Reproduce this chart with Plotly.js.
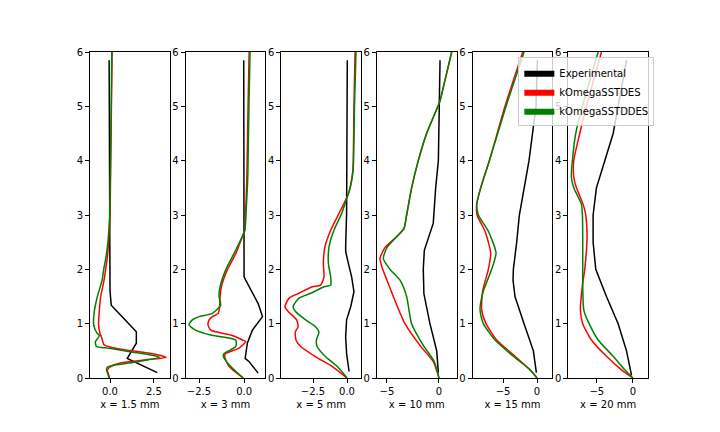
<!DOCTYPE html>
<html>
<head>
<meta charset="utf-8">
<script src="https://cdn.plot.ly/plotly-3.0.1.min.js"></script>
<style>
  html, body { margin: 0; padding: 0; background: #fff; }
  #chart { width: 720px; height: 432px; }
</style>
</head>
<body>
<div id="chart"></div>
<script>
const STATIONS = ["x = 1.5 mm", "x = 3 mm", "x = 5 mm", "x = 10 mm", "x = 15 mm", "x = 20 mm"];
const SERIES_NAMES = ["Experimental", "kOmegaSSTDES", "kOmegaSSTDDES"];
const SERIES_COLORS = ["#000000", "#ff0000", "#008000"];

// x = 1.5 mm
const exp15mm_y = [5.85, 4, 3, 2, 1.6, 1.34, 0.85, 0.64, 0.36, 0.10];
const exp15mm_x = [-0.05, -0.03, -0.02, -0.01, 0.0, 0.07, 1.50, 1.50, 0.98, 2.69];
const des15mm_y = [6, 5, 4, 3, 2.5, 2.2, 2.0, 1.8, 1.5, 1.19, 0.98, 0.82, 0.76, 0.61, 0.58, 0.53, 0.47, 0.42, 0.38, 0.34, 0.28, 0.21, 0.15, 0.06, 0];
const des15mm_x = [0.12, 0.08, 0.04, 0.0, -0.08, -0.16, -0.25, -0.34, -0.53, -0.62, -0.65, -0.57, -0.49, -0.34, -0.11, 0.64, 1.97, 2.82, 3.2, 2.16, 0.64, 0.04, -0.15, -0.08, -0.02];
const ddes15mm_y = [6, 5, 4, 3, 2.5, 2.2, 2.0, 1.8, 1.5, 1.19, 0.98, 0.83, 0.78, 0.67, 0.58, 0.55, 0.48, 0.42, 0.38, 0.30, 0.24, 0.20, 0.15, 0.06, 0];
const ddes15mm_x = [0.1, 0.07, 0.03, -0.02, -0.12, -0.24, -0.36, -0.45, -0.72, -0.91, -0.93, -0.75, -0.6, -0.83, -0.78, -0.11, 1.21, 2.35, 2.82, 1.59, 0.27, -0.15, -0.2, -0.11, -0.05];

// x = 3 mm
const exp3mm_y = [5.85, 4, 3, 1.86, 1.80, 1.56, 1.37, 1.13, 0.88, 0.64, 0.36, 0.30, 0.09];
const exp3mm_x = [-0.02, -0.02, -0.01, 0.0, 0.09, 0.46, 0.78, 1.02, 0.46, 0.18, 0.06, 0.28, 0.78];
const des3mm_y = [6, 5, 4, 3.64, 3.0, 2.72, 2.54, 2.29, 1.99, 1.68, 1.5, 1.34, 1.19, 1.13, 1.07, 0.98, 0.88, 0.79, 0.70, 0.67, 0.55, 0.45, 0.40, 0.21, 0];
const des3mm_x = [0.28, 0.22, 0.17, 0.15, 0.08, 0.04, -0.17, -0.46, -0.93, -1.26, -1.33, -1.35, -1.43, -1.76, -1.94, -2.0, -1.85, -0.74, -0.09, 0.09, -0.28, -1.02, -1.08, -0.83, -0.05];
const ddes3mm_y = [6, 5, 4, 3.64, 3.0, 2.72, 2.54, 2.29, 1.99, 1.68, 1.5, 1.34, 1.19, 1.13, 1.07, 0.98, 0.88, 0.79, 0.70, 0.58, 0.45, 0.40, 0.21, 0];
const ddes3mm_x = [0.33, 0.27, 0.22, 0.2, 0.1, 0.04, -0.19, -0.56, -1.02, -1.33, -1.39, -1.30, -1.76, -2.5, -2.87, -3.06, -2.69, -1.85, -0.46, -0.46, -1.11, -1.15, -0.74, -0.05];

// x = 5 mm
const exp5mm_y = [5.85, 4.5, 3.64, 3.03, 2.42, 2.33, 2.11, 1.86, 1.59, 1.31, 1.07, 0.76, 0.45, 0.12];
const exp5mm_x = [0.02, 0.02, 0.02, -0.03, -0.1, -0.1, 0.1, 0.34, 0.51, 0.27, -0.03, -0.1, -0.03, 0.15];
const des5mm_y = [6, 5, 4, 3.8, 3.5, 3.34, 3.03, 2.72, 2.42, 2.11, 1.86, 1.71, 1.68, 1.56, 1.47, 1.31, 1.22, 1.07, 0.94, 0.85, 0.70, 0.58, 0.39, 0.21, 0];
const des5mm_x = [0.59, 0.51, 0.46, 0.42, 0.22, 0.02, -0.59, -1.2, -1.62, -1.74, -1.69, -1.94, -2.55, -3.53, -4.26, -4.56, -4.31, -3.7, -3.6, -3.8, -3.75, -3.4, -2.3, -1.08, 0.0];
const ddes5mm_y = [6, 5, 4, 3.8, 3.5, 3.34, 3.03, 2.72, 2.42, 2.11, 1.86, 1.71, 1.68, 1.56, 1.47, 1.31, 1.22, 1.07, 0.94, 0.85, 0.70, 0.58, 0.39, 0.21, 0];
const ddes5mm_x = [0.66, 0.55, 0.48, 0.44, 0.24, 0.02, -0.39, -0.96, -1.32, -1.37, -1.2, -1.2, -1.69, -2.67, -3.53, -3.97, -3.77, -3.04, -2.3, -2.06, -2.25, -2.2, -1.57, -0.71, 0.0];

// x = 10 mm
const exp10mm_y = [5.85, 4, 3.5, 2.85, 2.35, 2.0, 1.55, 1.0, 0.5, 0.1];
const exp10mm_x = [0.1, -0.06, -0.32, -0.55, -1.41, -1.51, -1.45, -0.87, -0.22, -0.06];
const des10mm_y = [6, 5.5, 5.1, 5, 4.5, 4, 3.5, 3, 2.75, 2.6, 2.4, 2.2, 2.0, 1.8, 1.5, 1.0, 0.6, 0.3, 0];
const des10mm_x = [1.22, 0.6, 0.1, -0.1, -1.19, -1.99, -2.63, -3.11, -3.37, -4.07, -5.19, -5.67, -5.41, -5.0, -4.39, -3.27, -1.83, -0.55, 0];
const ddes10mm_y = [6, 5.5, 5.1, 5, 4.5, 4, 3.5, 3, 2.75, 2.6, 2.4, 2.2, 2.0, 1.8, 1.5, 1.0, 0.6, 0.3, 0];
const ddes10mm_x = [1.22, 0.6, 0.1, -0.1, -1.19, -1.99, -2.63, -3.11, -3.37, -4.07, -5.0, -5.35, -4.71, -3.75, -3.11, -2.63, -1.51, -0.45, 0];

// x = 15 mm
const exp15_y = [5.85, 5, 4, 3.5, 3, 2.5, 2, 1.8, 1.5, 1, 0.5, 0.1];
const exp15_x = [0.05, -0.15, -1.18, -1.91, -2.6, -2.99, -3.48, -3.53, -3.24, -1.91, -0.54, -0.1];
const des15_y = [6, 5, 4, 3.5, 3.2, 3.0, 2.7, 2.3, 2.0, 1.6, 1.25, 1.0, 0.7, 0.4, 0.15, 0];
const des15_x = [-2.1, -4.71, -7.01, -8.28, -8.87, -8.82, -7.65, -6.81, -7.16, -8.0, -8.14, -7.5, -5.93, -3.24, -1.03, 0];
const ddes15_y = [6, 5, 4, 3.5, 3.2, 3.0, 2.7, 2.3, 2.0, 1.6, 1.25, 1.0, 0.7, 0.4, 0.15, 0];
const ddes15_x = [-1.91, -4.56, -7.01, -8.28, -8.87, -8.63, -7.16, -6.03, -6.67, -7.89, -8.38, -7.89, -6.18, -3.48, -1.03, 0];

// x = 20 mm
const exp20_y = [5.85, 5, 4.5, 4, 3.5, 3, 2.5, 2, 1.5, 1, 0.5, 0.05];
const exp20_x = [-0.88, -2.04, -2.73, -3.89, -5.05, -5.51, -5.51, -5.14, -3.66, -2.04, -0.88, -0.18];
const des20_y = [6, 5, 4.5, 4, 3.7, 3.5, 3.2, 3.0, 2.6, 2.0, 1.7, 1.25, 1.0, 0.7, 0.4, 0.15, 0];
const des20_x = [-4.35, -6.44, -7.36, -8.19, -8.19, -7.82, -6.9, -6.53, -6.35, -6.67, -6.99, -7.27, -6.95, -5.74, -3.66, -1.57, 0];
const ddes20_y = [6, 5, 4.5, 4, 3.7, 3.5, 3.2, 3.0, 2.6, 2.0, 1.7, 1.25, 1.0, 0.7, 0.4, 0.15, 0];
const ddes20_x = [-4.81, -7.0, -7.92, -8.38, -8.52, -8.19, -7.13, -6.99, -6.95, -6.95, -6.95, -6.8, -6.06, -4.81, -2.73, -1.11, 0];

const X_RANGES = [[-1.14, 3.4], [-3.24, 1.18], [-4.83, 1.03], [-5.96, 1.7], [-9.47, 2.25], [-8.95, 2.1]];
const X_DTICK = [2.5, 2.5, 2.5, 5, 5, 5];
const X_FORMAT = [".1f", ".1f", ".1f", "d", "d", "d"];

const panels = [
  [[exp15mm_x, exp15mm_y], [des15mm_x, des15mm_y], [ddes15mm_x, ddes15mm_y]],
  [[exp3mm_x, exp3mm_y], [des3mm_x, des3mm_y], [ddes3mm_x, ddes3mm_y]],
  [[exp5mm_x, exp5mm_y], [des5mm_x, des5mm_y], [ddes5mm_x, ddes5mm_y]],
  [[exp10mm_x, exp10mm_y], [des10mm_x, des10mm_y], [ddes10mm_x, ddes10mm_y]],
  [[exp15_x, exp15_y], [des15_x, des15_y], [ddes15_x, ddes15_y]],
  [[exp20_x, exp20_y], [des20_x, des20_y], [ddes20_x, ddes20_y]],
];

const FONT = { family: "DejaVu Sans", size: 10, color: "#000" };

const data = [];
const layout = {
  width: 720,
  height: 432,
  paper_bgcolor: "#fff",
  plot_bgcolor: "#fff",
  margin: { l: 90, r: 72, t: 52, b: 54 },
  font: FONT,
  showlegend: true,
  legend: {
    x: 0.7676,
    y: 0.984,
    xanchor: "left",
    yanchor: "top",
    bgcolor: "rgba(255,255,255,0.8)",
    bordercolor: "#cccccc",
    borderwidth: 1,
    font: FONT,
    tracegroupgap: 0,
  },
};

const w = 1 / 7;
panels.forEach((curves, i) => {
  const n = i + 1;
  const xa = "xaxis" + (n === 1 ? "" : n);
  const ya = "yaxis" + (n === 1 ? "" : n);
  const start = i * 1.2 * w;
  layout[xa] = {
    domain: [start, start + w],
    anchor: "y" + (n === 1 ? "" : n),
    range: X_RANGES[i],
    dtick: X_DTICK[i],
    tick0: 0,
    tickformat: X_FORMAT[i],
    showgrid: false,
    zeroline: false,
    showline: true,
    mirror: true,
    linecolor: "#000",
    linewidth: 1,
    ticks: "outside",
    ticklen: 4,
    tickwidth: 1,
    tickcolor: "#000",
    tickfont: FONT,
    title: { text: STATIONS[i], font: FONT, standoff: 4 },
  };
  layout[ya] = {
    anchor: "x" + (n === 1 ? "" : n),
    range: [0, 6],
    dtick: 1,
    tick0: 0,
    showgrid: false,
    zeroline: false,
    showline: true,
    mirror: true,
    linecolor: "#000",
    linewidth: 1,
    ticks: "outside",
    ticklen: 4,
    tickwidth: 1,
    tickcolor: "#000",
    tickfont: FONT,
  };
  curves.forEach(([xs, ys], k) => {
    data.push({
      type: "scatter",
      mode: "lines",
      x: xs,
      y: ys,
      xaxis: "x" + (n === 1 ? "" : n),
      yaxis: "y" + (n === 1 ? "" : n),
      line: {
        color: SERIES_COLORS[k],
        width: 1.5,
        shape: k === 0 ? "linear" : "spline",
        smoothing: 0.6,
      },
      showlegend: false,
      hoverinfo: "skip",
    });
  });
});

// legend patches, like matplotlib's rectangles
SERIES_NAMES.forEach((name, k) => {
  data.push({
    type: "scatter",
    mode: "lines",
    x: [null],
    y: [null],
    xaxis: "x6",
    yaxis: "y6",
    name: name,
    fill: "toself",
    fillcolor: SERIES_COLORS[k],
    line: { color: SERIES_COLORS[k], width: 0 },
    showlegend: true,
  });
});

Plotly.newPlot("chart", data, layout, { staticPlot: true });
</script>
</body>
</html>
